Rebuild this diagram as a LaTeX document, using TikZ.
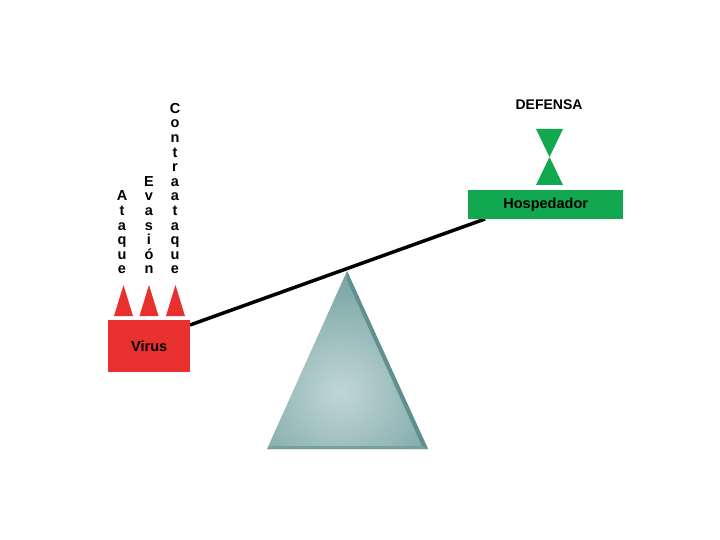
\documentclass[tikz,border=0pt]{standalone}
\usepackage{fontspec}
\setmainfont{Liberation Sans}
\usetikzlibrary{positioning,calc}

\definecolor{virusred}{HTML}{E8302F}
\definecolor{hostgreen}{HTML}{12A850}
\definecolor{pivotdark}{HTML}{5F8F8F}
\definecolor{pivotedge}{HTML}{6E9C9C}
\definecolor{pivotlight}{HTML}{C0D6D6}

\tikzset{
  vword/.style={anchor=south,inner sep=0pt,align=center,text depth=0pt,
    font=\fontsize{14.5}{14.6}\selectfont\bfseries},
  sidebox/.style={anchor=north west,inner sep=0pt,
    font=\fontsize{14.5}{16}\selectfont\bfseries}
}

\begin{document}
\begin{tikzpicture}[x=1pt,y=-1pt]

  \useasboundingbox[fill=white] (0,0) rectangle (720,540);

  % Black = beam of the balance
  \coordinate (beamL) at (190,325);
  \coordinate (beamR) at (485,219);
  \draw[line width=3.5pt] (beamL) -- (beamR);

  % Teal = pivot
  \coordinate (pivottop) at (347,271);
  \coordinate (pivotleft) at (267,449);
  \coordinate (pivotright) at (428,449);
  \path[path picture={\shade[inner color=pivotlight,outer color=pivotedge]
      (341,392) circle (135pt);}]
    (pivottop) -- (pivotright) -- (pivotleft) -- cycle;
  \fill[pivotdark] (pivottop) -- (pivotright) -- ($(pivotright)+(-6,-3)$)
    -- ($(pivottop)+(0,9)$) -- cycle;
  \fill[pivotdark!85!white] (pivotleft) -- (pivotright) -- ($(pivotright)+(-6,-3)$)
    -- ($(pivotleft)+(6,-3)$) -- cycle;

  % Red = virus and its weapons
  \node[sidebox,fill=virusred,minimum width=82pt,minimum height=52pt]
    (virus) at (108,320) {Virus};
  \foreach \xc in {123.5,149,175.5}
    \fill[virusred] (\xc-9.5,316) -- (\xc,285) -- (\xc+9.5,316) -- cycle;
  \node[vword] (ataque) at (122,274) {A\\t\\a\\q\\u\\e};
  \node[vword] (evasion) at (149,274) {E\\v\\a\\s\\i\\ó\\n};
  \node[vword] (contraataque) at (175,274) {C\\o\\n\\t\\r\\a\\a\\t\\a\\q\\u\\e};

  % Green = host and its defence
  \node[sidebox,fill=hostgreen,minimum width=155pt,minimum height=29pt]
    (host) at (468,190) {Hospedador};
  \fill[hostgreen] (536,129) -- (563,129) -- (549.5,157) -- cycle;
  \fill[hostgreen] (549.5,157) -- (563,185) -- (536,185) -- cycle;
  \node[font=\fontsize{14}{15}\selectfont\bfseries] (defensa) at (549,105) {DEFENSA};

\end{tikzpicture}
\end{document}
